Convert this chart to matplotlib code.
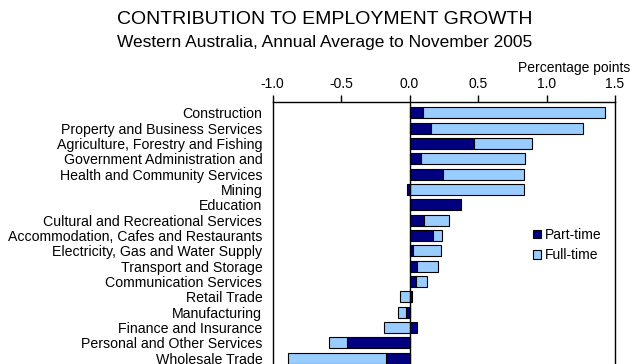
import numpy as np
import matplotlib.pyplot as plt

plt.rcParams['font.family'] = ['Liberation Sans', 'DejaVu Sans']

industries = [
    "Construction",
    "Property and Business Services",
    "Agriculture, Forestry and Fishing",
    "Government Administration and",
    "Health and Community Services",
    "Mining",
    "Education",
    "Cultural and Recreational Services",
    "Accommodation, Cafes and Restaurants",
    "Electricity, Gas and Water Supply",
    "Transport and Storage",
    "Communication Services",
    "Retail Trade",
    "Manufacturing",
    "Finance and Insurance",
    "Personal and Other Services",
    "Wholesale Trade",
]
part_time = [0.097, 0.158, 0.47, 0.085, 0.243, -0.02, 0.372, 0.105, 0.17,
             0.022, 0.054, 0.046, 0.017, -0.024, 0.051, -0.46, -0.176]
full_time = [1.33, 1.105, 0.423, 0.76, 0.59, 0.834, 0.0, 0.185, 0.07,
             0.205, 0.153, 0.081, -0.07, -0.063, -0.19, -0.13, -0.71]

pt = np.array(part_time)
ft = np.array(full_time)
# full-time stacks on part-time only when both have the same sign
ft_left = np.where(np.sign(pt) == np.sign(ft), pt, 0.0)

W, H = 632, 364
fig = plt.figure(figsize=(W / 100, H / 100), dpi=100)
ax = fig.add_axes([272.7 / W, -5 / H, (615 - 272.7) / W, (369 - 102) / H])

y = np.arange(len(industries))
h = 0.72
ax.barh(y, pt, height=h, color='#000080', edgecolor='black', linewidth=0.8,
        label='Part-time')
ax.barh(y, ft, left=ft_left, height=h, color='#99CCFF', edgecolor='black',
        linewidth=0.8, label='Full-time')
ax.axvline(0, color='black', linewidth=1)

ax.set_xlim(-1.0, 1.5)
ax.set_ylim(len(industries) - 1 + 0.71, -0.71)
ax.set_xticks([-1.0, -0.5, 0.0, 0.5, 1.0, 1.5])
ax.set_xticklabels(['-1.0', '-0.5', '0.0', '0.5', '1.0', '1.5'])
ax.xaxis.tick_top()
ax.tick_params(axis='x', direction='out', length=5, width=1, labelsize=10, pad=3)
ax.set_yticks(y)
ax.set_yticklabels(industries)
ax.tick_params(axis='y', length=0, labelsize=10.2, pad=7.5)
ax.spines['bottom'].set_visible(False)
for s in ['top', 'left', 'right']:
    ax.spines[s].set_linewidth(1)

fig.text(325 / W, 1 - 20 / H, "CONTRIBUTION TO EMPLOYMENT GROWTH",
         ha='center', va='center', fontsize=14)
fig.text(325 / W, 1 - 42 / H, "Western Australia, Annual Average to November 2005",
         ha='center', va='center', fontsize=12.5)
fig.text(630 / W, 1 - 68 / H, "Percentage points", ha='right', va='center',
         fontsize=10)

fig.legend(*ax.get_legend_handles_labels(), loc='center left',
           bbox_to_anchor=(533 / W, 1 - 245 / H), frameon=False,
           borderpad=0, borderaxespad=0, fontsize=10,
           handlelength=0.58, handleheight=0.58, handletextpad=0.3,
           labelspacing=0.45)

fig.savefig('out.png', dpi=100)
